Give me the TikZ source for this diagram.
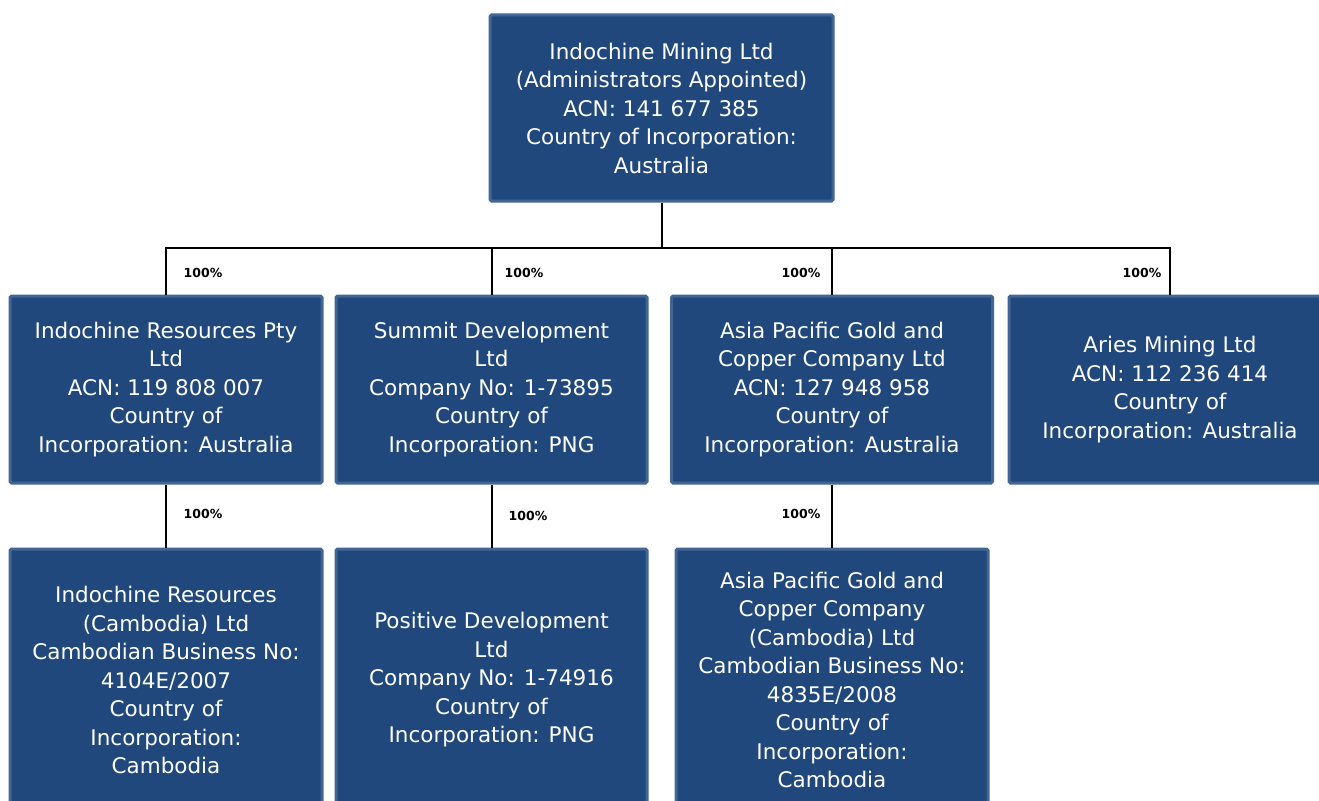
\documentclass[tikz,border=0pt]{standalone}
\usepackage{fontspec}
\setmainfont{DejaVu Sans}
\usepackage{xcolor}
\definecolor{boxfill}{RGB}{32,72,124}
\definecolor{boxedge}{RGB}{66,101,148}

\tikzset{
	entity/.style={fill=boxfill, draw=boxedge, line width=3pt, rounded corners=1.5pt,
		text=white, align=center, inner sep=0pt,
		font=\fontsize{21.5}{28.5}\selectfont},
	share/.style={fill=white, inner sep=2pt, font=\fontsize{12.5}{12.5}\selectfont\bfseries},
	own/.style={line width=2pt}
}

\begin{document}
\begin{tikzpicture}[x=1pt, y=-1pt]
	\useasboundingbox (0,0) rectangle (1319,800);

	% parent company
	\node[entity, minimum width=343, minimum height=186] (im) at (661.5,108)
		{Indochine Mining Ltd\\(Administrators Appointed)\\ACN: 141 677 385\\Country of Incorporation:\\Australia};

	% first tier subsidiaries
	\node[entity, minimum width=312, minimum height=187] (irp) at (166,389.5)
		{Indochine Resources Pty\\Ltd\\ACN: 119 808 007\\Country of\\Incorporation: Australia};
	\node[entity, minimum width=311, minimum height=187] (sd) at (491.5,389.5)
		{Summit Development\\Ltd\\Company No: 1-73895\\Country of\\Incorporation: PNG};
	\node[entity, minimum width=321, minimum height=187] (apg) at (832,389.5)
		{Asia Pacific Gold and\\Copper Company Ltd\\ACN: 127 948 958\\Country of\\Incorporation: Australia};
	\node[entity, minimum width=322, minimum height=187] (am) at (1170,389.5)
		{Aries Mining Ltd\\ACN: 112 236 414\\Country of\\Incorporation: Australia};

	% second tier subsidiaries
	\node[entity, minimum width=312, minimum height=262] (irc) at (166,680)
		{Indochine Resources\\(Cambodia) Ltd\\Cambodian Business No:\\4104E/2007\\Country of\\Incorporation:\\Cambodia};
	\node[entity, minimum width=311, minimum height=262] (pd) at (491.5,680)
		{Positive Development\\Ltd\\Company No: 1-74916\\Country of\\Incorporation: PNG};
	\node[entity, minimum width=312, minimum height=262] (apgc) at (832,680)
		{Asia Pacific Gold and\\Copper Company\\(Cambodia) Ltd\\Cambodian Business No:\\4835E/2008\\Country of\\Incorporation:\\Cambodia};

	% ownership lines
	\coordinate (bus) at (661.5,248);
	\draw[own] (im.south) -- (bus);
	\draw[own] (irp.north) |- (bus) -| (am.north);
	\draw[own] (sd.north) -- (sd.north |- bus);
	\draw[own] (apg.north) -- (apg.north |- bus);
	\draw[own] (irp.south) -- (irc.north);
	\draw[own] (sd.south) -- (pd.north);
	\draw[own] (apg.south) -- (apgc.north);

	% holdings
	\node[share] (s1) at (203,273) {100\%};
	\node[share] (s2) at (524,273) {100\%};
	\node[share] (s3) at (801,273) {100\%};
	\node[share] (s4) at (1142,273) {100\%};
	\node[share] (s5) at (203,514) {100\%};
	\node[share] (s6) at (528,516) {100\%};
	\node[share] (s7) at (801,514) {100\%};

\end{tikzpicture}
\end{document}
